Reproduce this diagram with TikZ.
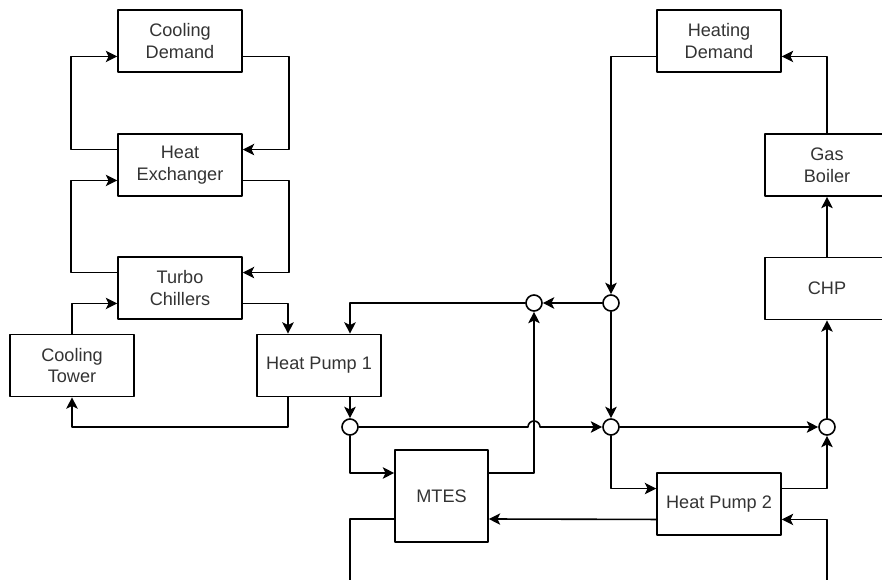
\documentclass[tikz,border=0pt]{standalone}
\usepackage{fontspec}
\setmainfont{Liberation Sans}
\usetikzlibrary{arrows.meta}

\begin{document}
\begin{tikzpicture}[x=0.75pt,y=-0.75pt,line cap=round,line join=round,
	unit/.style={draw,line width=1.2,minimum width=93pt,minimum height=46.5pt,align=center,inner sep=1pt,font=\fontsize{13.6}{16.3}\selectfont,text=black!80},
	junc/.style={draw,line width=1.2,circle,fill=white,inner sep=0pt,minimum size=12pt},
	flow/.style={line width=1.2,-{Stealth[length=8.5pt,width=8.5pt,inset=2pt]}},
	pipe/.style={line width=1.2}]
		\def\dv{11.6pt};
		\def\dh{23.25pt};
		\def\dm{17.25pt};
		
		\path[use as bounding box,clip] (0,0) rectangle (882,580);
		
		\node[unit] (cooldem) at (180,41) {Cooling\\Demand};
		\node[unit] (hx) at (180,165) {Heat\\Exchanger};
		\node[unit] (chillers) at (180,288) {Turbo\\Chillers};
		\node[unit] (tower) at (72,365.5) {Cooling\\Tower};
		\node[unit] (hp1) at (319,365.5) {Heat Pump 1};
		\node[unit,minimum width=69.75pt,minimum height=69pt] (mtes) at (441.5,496) {MTES};
		\node[unit] (hp2) at (719,504) {Heat Pump 2};
		\node[unit] (chp) at (827,288.5) {CHP};
		\node[unit] (boiler) at (827,165) {Gas\\Boiler};
		\node[unit] (heatdem) at (719,41) {Heating\\Demand};
		
		\node[junc] (j1) at (350,427) {};
		\node[junc] (j2) at (611,427) {};
		\node[junc] (j3) at (827,427) {};
		\node[junc] (j4) at (611,303) {};
		\node[junc] (j5) at (534,303) {};
		\coordinate (cutL) at (350,590);
		\coordinate (cutR) at (827,590);
		
		% cooling side
		\draw[flow] ([yshift=-\dv]cooldem.east) -- ++(46,0) |- ([yshift=\dv]hx.east);
		\draw[flow] ([yshift=\dv]hx.west) -- ++(-46,0) |- ([yshift=-\dv]cooldem.west);
		\draw[flow] ([yshift=-\dv]hx.east) -- ++(46,0) |- ([yshift=\dv]chillers.east);
		\draw[flow] ([yshift=\dv]chillers.west) -- ++(-46,0) |- ([yshift=-\dv]hx.west);
		\draw[flow] (tower.north) |- ([yshift=-\dv]chillers.west);
		\draw[flow] ([yshift=-\dv]chillers.east) -| ([xshift=-\dh]hp1.north);
		\draw[flow] ([xshift=-\dh]hp1.south) -- ++(0,30) -| (tower.south);
		
		% heating side
		\draw[flow] ([xshift=\dh]hp1.south) -- (j1);
		\draw[flow] (j5) -| ([xshift=\dh]hp1.north);
		\draw[flow] (j1) -- (528,427) arc[start angle=180,end angle=0,radius=4.5pt] -- (j2);
		\draw[flow] (j1) |- ([yshift=\dm]mtes.west);
		\draw[flow] ([yshift=\dm]mtes.east) -| (j5);
		\draw[pipe] ([yshift=-\dm]mtes.west) -| (cutL);
		\draw[flow] (cutR) |- ([yshift=-\dv]hp2.east);
		\draw[flow] ([yshift=-\dv]hp2.west) -- ([yshift=-\dm]mtes.east);
		\draw[flow] (j2) |- ([yshift=\dv]hp2.west);
		\draw[flow] ([yshift=\dv]hp2.east) -| (j3);
		\draw[flow] (j2) -- (j3);
		\draw[flow] (j3) -- (chp.south);
		\draw[flow] (chp.north) -- (boiler.south);
		\draw[flow] (boiler.north) |- ([yshift=-\dv]heatdem.east);
		\draw[flow] ([yshift=-\dv]heatdem.west) -| (j4);
		\draw[flow] (j4) -- (j5);
		\draw[flow] (j4) -- (j2);
		
	\end{tikzpicture}
\end{document}
